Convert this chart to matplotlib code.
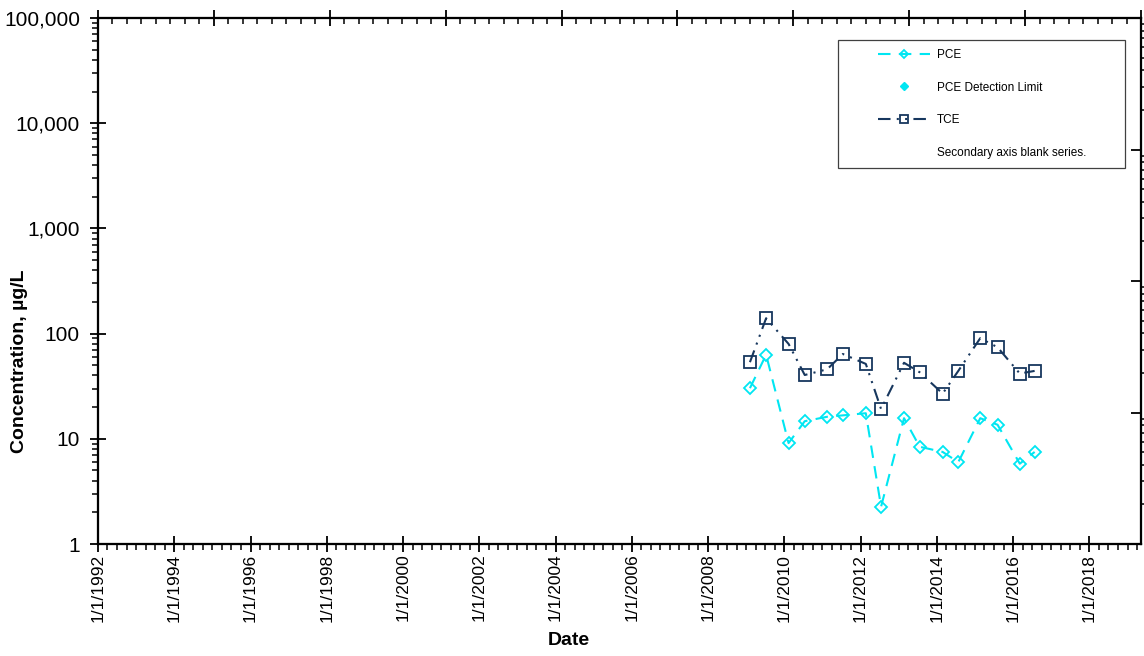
import matplotlib
matplotlib.use("Agg")
import matplotlib.pyplot as plt
import matplotlib.dates as mdates
import matplotlib.ticker as mticker
from matplotlib.lines import Line2D
from matplotlib.legend_handler import HandlerLine2D
import numpy as np
import pandas as pd

plt.rcParams['font.family'] = ['Liberation Sans', 'DejaVu Sans']

# Sampling dates and concentrations (ug/L)
sample_dates = ["2009-02-05", "2009-07-10", "2010-02-10", "2010-07-15",
                "2011-02-15", "2011-07-15", "2012-02-20", "2012-07-15",
                "2013-02-20", "2013-07-20", "2014-02-25", "2014-07-25",
                "2015-02-20", "2015-08-05", "2016-03-05", "2016-07-25"]
pce = [30.3, 63, 9.1, 14.7, 16.2, 16.7, 17.5, 2.26,
       15.7, 8.4, 7.5, 6.0, 15.7, 13.6, 5.8, 7.5]
tce = [53.5, 140, 79.8, 40.4, 45.8, 64, 51.5, 19.2,
       52.8, 42.9, 26.9, 44.2, 90.4, 74.1, 41.7, 44.2]

y_ticks = [1, 10, 100, 1000, 10000, 100000]
y_ticklabels = ["1", "10", "100", "1,000", "10,000", "100,000"]
x_tick_years = list(range(1992, 2019, 2))

PCE_COLOR = "#00E6F2"
TCE_COLOR = "#17375E"

dates = pd.to_datetime(sample_dates)

fig = plt.figure(figsize=(11.44, 6.56), dpi=100)
ax = fig.add_axes([98 / 1144, 112 / 656, 1043 / 1144, 526 / 656])

ax.plot(dates, pce, color=PCE_COLOR, lw=1.5, linestyle=(0, (6, 4)),
        marker="D", markersize=6, markerfacecolor="none",
        markeredgecolor=PCE_COLOR, markeredgewidth=1.3, label="PCE", zorder=3)
ax.plot([], [], linestyle="none", marker="D", markersize=6,
        color=PCE_COLOR, label="PCE Detection Limit")
ax.plot(dates, tce, color=TCE_COLOR, lw=1.5, linestyle=(0, (6, 3, 1, 3, 1, 3)),
        marker="s", markersize=8.5, markerfacecolor="none",
        markeredgecolor=TCE_COLOR, markeredgewidth=1.3, label="TCE", zorder=2)
ax.plot([], [], linestyle="none", marker="none", label="Secondary axis blank series.")

ax.set_yscale("log")
ax.set_ylim(1, 100000)
ax.set_yticks(y_ticks)
ax.set_yticklabels(y_ticklabels)
ax.yaxis.set_minor_locator(mticker.LogLocator(base=10, subs=np.arange(2, 10)))
ax.yaxis.set_minor_formatter(mticker.NullFormatter())

ax.set_xlim(pd.Timestamp("1992-01-01"), pd.Timestamp("2019-05-10"))
ax.set_xticks([pd.Timestamp(f"{y}-01-01") for y in x_tick_years])
ax.set_xticklabels([f"1/1/{y}" for y in x_tick_years], rotation=90)
ax.xaxis.set_minor_locator(mdates.MonthLocator(bymonth=[1, 4, 7, 10]))

ax.tick_params(axis="both", which="major", direction="inout", length=12,
               width=1.3, labelsize=15, top=False, right=False)
ax.tick_params(axis="y", which="major", pad=7)
ax.tick_params(axis="x", which="major", labelsize=12.5, pad=1)
ax.tick_params(axis="both", which="minor", direction="out", length=4,
               width=1.1, top=False, right=False)
for s in ax.spines.values():
    s.set_linewidth(1.5)

ax.set_ylabel("Concentration, µg/L", fontsize=14, fontweight="bold")
ax.yaxis.set_label_coords(-0.0671, 0.348)
ax.set_xlabel("Date", fontsize=14, fontweight="bold")
ax.xaxis.set_label_coords(0.4516, -0.167)

# Secondary value axis (right) with no labels
axr = ax.twinx()
axr.set_yscale("log")
axr.set_ylim(1, 10000)
axr.yaxis.set_major_locator(mticker.LogLocator(base=10))
axr.yaxis.set_minor_locator(mticker.LogLocator(base=10, subs=np.arange(2, 10)))
axr.yaxis.set_major_formatter(mticker.NullFormatter())
axr.yaxis.set_minor_formatter(mticker.NullFormatter())
axr.tick_params(axis="y", which="major", direction="in", length=7, width=1.3)
axr.tick_params(axis="y", which="minor", direction="out", length=4, width=1.1)

# Secondary category axis (top) with no labels
axt = ax.twiny()
axt.set_xlim(0, 9)
axt.xaxis.set_major_locator(mticker.MultipleLocator(1))
axt.xaxis.set_minor_locator(mticker.MultipleLocator(0.125))
axt.xaxis.set_major_formatter(mticker.NullFormatter())
axt.tick_params(axis="x", which="major", direction="inout", length=12, width=1.3)
axt.tick_params(axis="x", which="minor", direction="in", length=4, width=1.1)
for a in (axr, axt):
    for s in a.spines.values():
        s.set_linewidth(1.5)

handles, labels = ax.get_legend_handles_labels()
leg = axt.legend(handles, labels, loc="upper left",
                 bbox_to_anchor=(0.7095, 0.715, 0.2752, 0.243), mode="expand",
                 borderaxespad=0,
                 fontsize=8.5, frameon=True, fancybox=False, framealpha=1,
                 edgecolor="#404040", borderpad=0.75, labelspacing=1.75,
                 handlelength=7.0, handletextpad=0.6, markerscale=0.7,
                 handler_map={Line2D: HandlerLine2D(numpoints=1, xpad=2.6)})
leg.get_frame().set_linewidth(0.9)

fig.savefig("out.png", dpi=100)
